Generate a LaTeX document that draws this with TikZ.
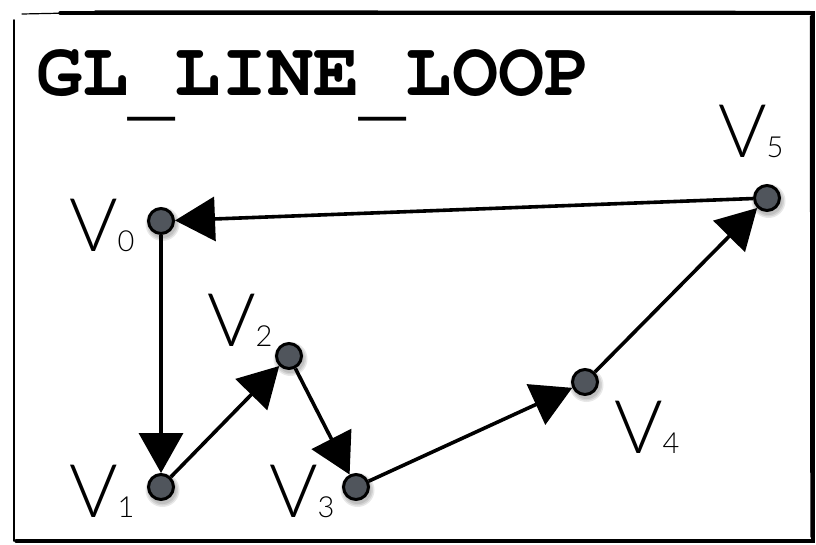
\documentclass[tikz,border=0pt]{standalone}
\usepackage[T1]{fontenc}
\usepackage{fontspec}
\usetikzlibrary{arrows.meta}
\IfFontExistsTF{Lato Light}{\newfontfamily\labfont{Lato Light}}{\newfontfamily\labfont{Liberation Sans}}
\newcommand\ttlfont{\fontencoding{T1}\fontfamily{pcr}\fontseries{b}\fontshape{n}\fontsize{77}{77}\selectfont}
\newcommand\usc{\raisebox{-0.21em}{\char95}}
\newcommand\vlab[1]{\labfont\fontsize{74}{74}\selectfont V{\fontsize{29}{29}\selectfont #1}}
\definecolor{vgray}{HTML}{50555C}
\tikzset{
  vtx/.style={circle, minimum size=25pt, inner sep=0pt, fill=vgray, draw=black, line width=3pt},
  vshadow/.style={fill=black, opacity=0.09},
  lab/.style={anchor=base west, inner sep=0pt},
  edge/.style={line width=3.6pt, draw=black, -{Triangle[length=40pt,width=44pt]}},
  frame/.style={draw=black, line cap=round}
}
\begin{document}
\begin{tikzpicture}[x=1pt,y=-1pt]
\useasboundingbox (0,0) rectangle (816,544);
% frame
\draw[frame, line width=3.4pt] (60,13) -- (813,13) -- (813,541) -- (16,541);
\draw[frame, line width=1.2pt] (22,14) -- (70,13);
\draw[frame, line width=1.6pt] (14,20) -- (14,541);
\draw[frame, line width=1.4pt] (95,11) -- (810,11.5);
\draw[frame, line width=1.4pt] (810.5,16) -- (811,537);
% title
\node[anchor=base west, inner sep=0pt] (title) at (36,95) {\ttlfont GL\usc LINE\usc LOOP};
% vertex positions
\coordinate (p0) at (161,221);
\coordinate (p1) at (161,487);
\coordinate (p2) at (289,356);
\coordinate (p3) at (356,487);
\coordinate (p4) at (585,382);
\coordinate (p5) at (767,198);
% shadows
\foreach \p in {p0,p1,p2,p3,p4,p5}{
  \foreach \r in {17,15.5,14}{
    \fill[vshadow] ([shift={(1.5,3)}]\p) circle (\r);
  }
}
% vertices
\node[vtx] (v0) at (p0) {};
\node[vtx] (v1) at (p1) {};
\node[vtx] (v2) at (p2) {};
\node[vtx] (v3) at (p3) {};
\node[vtx] (v4) at (p4) {};
\node[vtx] (v5) at (p5) {};
% edges
\draw[edge] (v0) -- (v1);
\draw[edge] (v1) -- (v2);
\draw[edge] (v2) -- (v3);
\draw[edge] (v3) -- (v4);
\draw[edge] (v4) -- (v5);
\draw[edge] (v5) -- (v0);
% labels
\node[lab] (l0) at (69,251) {\vlab{0}};
\node[lab] (l1) at (69,517) {\vlab{1}};
\node[lab] (l2) at (207,346) {\vlab{2}};
\node[lab] (l3) at (269,517) {\vlab{3}};
\node[lab] (l4) at (614,453) {\vlab{4}};
\node[lab] (l5) at (718,157) {\vlab{5}};
\end{tikzpicture}
\end{document}
